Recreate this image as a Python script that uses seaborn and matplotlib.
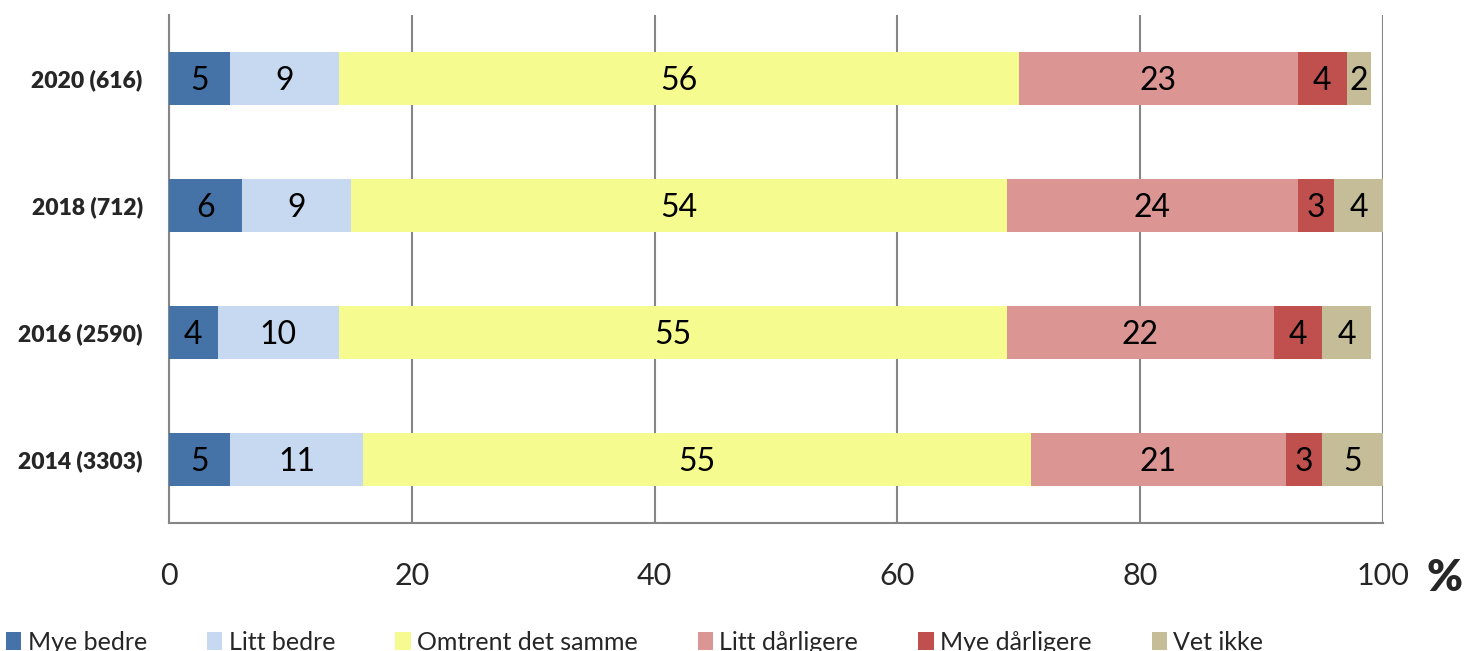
import numpy as np
import pandas as pd
import seaborn as sns
import matplotlib.pyplot as plt
from matplotlib.patches import Patch

# Data
years = ["2020 (616)", "2018 (712)", "2016 (2590)", "2014 (3303)"]
categories = ["Mye bedre", "Litt bedre", "Omtrent det samme",
              "Litt dårligere", "Mye dårligere", "Vet ikke"]
mye_bedre = [5, 6, 4, 5]
litt_bedre = [9, 9, 10, 11]
omtrent = [56, 54, 55, 55]
litt_darligere = [23, 24, 22, 21]
mye_darligere = [4, 3, 4, 3]
vet_ikke = [2, 4, 4, 5]
colors = ["#4573A7", "#C6D9F0", "#F6FB90", "#DB9694", "#C0504D", "#C4BD97"]

series = [mye_bedre, litt_bedre, omtrent, litt_darligere, mye_darligere, vet_ikke]
df = pd.DataFrame(dict(zip(categories, series)), index=years)
cum = df.cumsum(axis=1)

sns.set_style("white")
plt.rcParams["font.family"] = ["Lato", "DejaVu Sans"]

fig = plt.figure(figsize=(14.74, 6.51), dpi=100)
ax = fig.add_axes([0.1147, 0.1966, 0.8236, 0.7804])

# stacked bars: draw cumulative totals from the right-most segment back
for cat, col in reversed(list(zip(categories, colors))):
    sns.barplot(x=cum[cat].values, y=years, color=col, width=0.41,
                orient="h", ax=ax, saturation=1, linewidth=0, zorder=3)

# value labels in the middle of each segment
for i, yr in enumerate(years):
    for cat in categories:
        v = df.loc[yr, cat]
        ax.text(cum.loc[yr, cat] - v / 2, i + 0.02, str(v), ha="center",
                va="center", fontsize=23, color="black", zorder=4)

ax.set_xlim(0, 100)
ax.set_ylim(3.5, -0.5)
ax.set_xticks(np.arange(0, 101, 20))
ax.grid(axis="x", color="#868686", linewidth=1.5, zorder=0)
ax.set_xlabel("")
ax.set_ylabel("")

for s in ["top", "right"]:
    ax.spines[s].set_visible(False)
for s in ["left", "bottom"]:
    ax.spines[s].set_color("#868686")
    ax.spines[s].set_linewidth(1.5)

ax.tick_params(axis="x", direction="out", length=6, width=1.5, color="#868686",
               labelsize=22, pad=22)
ax.tick_params(axis="y", which="major", length=0, labelsize=16.5, pad=19)
ax.set_yticks([0.5, 1.5, 2.5, 3.5], minor=True)
ax.tick_params(axis="y", which="minor", direction="out", length=8, width=1.5,
               color="#868686")
for lab in ax.get_yticklabels():
    lab.set_fontweight("heavy")

fig.text(1445 / 1474, 1 - 578 / 651, "%", fontsize=31, fontweight="heavy",
         ha="center", va="center")

handles = [Patch(facecolor=c, edgecolor="none", label=l)
           for c, l in zip(colors, categories)]
fig.legend(handles=handles, loc="lower left", bbox_to_anchor=(0.004, -0.004),
           ncol=6, frameon=False, fontsize=18, handlelength=0.62,
           handleheight=0.72, handletextpad=0.25, columnspacing=2.4,
           borderaxespad=0, borderpad=0)

fig.savefig("out.png", dpi=100)
